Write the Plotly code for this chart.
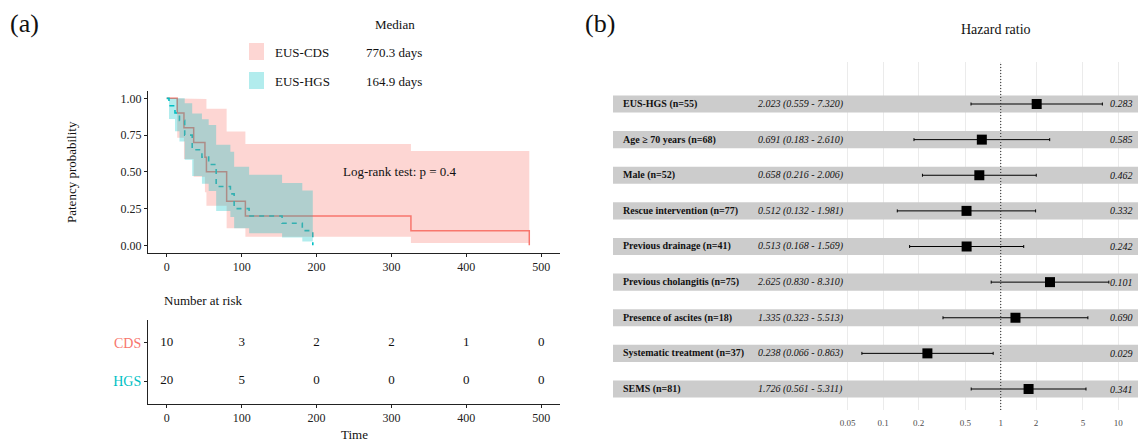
import plotly.graph_objects as go

W, H = 1138, 442
SERIF = "Liberation Serif, Times New Roman, serif"

# ---------------- data: Kaplan-Meier (a) ----------------
cds_time = [0, 14, 23, 36, 51, 53, 80, 105, 326, 484]
cds_surv = [1.0, 0.9, 0.8, 0.7, 0.6, 0.5, 0.3, 0.2, 0.1, 0.0]
cds_upper = [1.0, 1.0, 1.0, 1.0, 0.995, 0.929, 0.774, 0.690, 0.642]
cds_lower = [1.0, 0.732, 0.587, 0.467, 0.362, 0.269, 0.116, 0.058, 0.016]

hgs_time = [0, 3, 11, 17, 24, 34, 47, 56, 66, 85, 90, 110, 154, 181, 195]
hgs_surv = [1.0, 0.95, 0.90, 0.85, 0.75, 0.65, 0.60, 0.55, 0.40, 0.35, 0.25, 0.20, 0.15, 0.10, 0.0]
hgs_upper = [1.0, 1.0, 1.0, 1.0, 0.966, 0.897, 0.858, 0.818, 0.684, 0.636, 0.534, 0.480, 0.425, 0.373]
hgs_lower = [1.0, 0.859, 0.777, 0.707, 0.582, 0.471, 0.419, 0.370, 0.234, 0.193, 0.117, 0.083, 0.053, 0.027]

risk_times = [0, 100, 200, 300, 400, 500]
cds_risk = [10, 3, 2, 2, 1, 0]
hgs_risk = [20, 5, 0, 0, 0, 0]
risk_groups = ["CDS", "HGS"]

legend_names = ["EUS-CDS", "EUS-HGS"]
legend_medians = ["770.3 days", "164.9 days"]
logrank_text = "Log-rank test: p = 0.4"

km_xticks = [0, 100, 200, 300, 400, 500]
km_yticks = [0.0, 0.25, 0.50, 0.75, 1.00]

# ---------------- data: forest plot (b) ----------------
fp_labels = ["EUS-HGS (n=55)", "Age \u2265 70 years (n=68)", "Male (n=52)",
             "Rescue intervention (n=77)", "Previous drainage (n=41)",
             "Previous cholangitis (n=75)", "Presence of ascites (n=18)",
             "Systematic treatment (n=37)", "SEMS (n=81)"]
fp_hr = [2.023, 0.691, 0.658, 0.512, 0.513, 2.625, 1.335, 0.238, 1.726]
fp_lo = [0.559, 0.183, 0.216, 0.132, 0.168, 0.830, 0.323, 0.066, 0.561]
fp_hi = [7.320, 2.610, 2.006, 1.981, 1.569, 8.310, 5.513, 0.863, 5.311]
fp_p = ["0.283", "0.585", "0.462", "0.332", "0.242", "0.101", "0.690", "0.029", "0.341"]
fp_ticks = [0.05, 0.1, 0.2, 0.5, 1, 2, 5, 10]

CDS_COL = "#F8766D"
HGS_COL = "#00BFC4"

FP_LOG_RANGE = [-3.297, 1.1675]


def px(x):
    return x / W


def py(y):
    return 1 - y / H


def ribbon(t, up, lo):
    xs, ys = [], []
    for i in range(len(up)):
        xs += [t[i], t[i + 1]]
        ys += [up[i], up[i]]
    for i in reversed(range(len(lo))):
        xs += [t[i + 1], t[i]]
        ys += [lo[i], lo[i]]
    return xs, ys


fig = go.Figure()

# KM lines (drawn first, ribbons on top as in the reference)
fig.add_trace(go.Scatter(x=cds_time, y=cds_surv, mode="lines", line_shape="hv",
                         line=dict(color=CDS_COL, width=1.5), xaxis="x", yaxis="y"))
fig.add_trace(go.Scatter(x=hgs_time, y=hgs_surv, mode="lines", line_shape="hv",
                         line=dict(color=HGS_COL, width=1.6, dash="5px,5px"),
                         xaxis="x", yaxis="y"))
rx, ry = ribbon(cds_time, cds_upper, cds_lower)
fig.add_trace(go.Scatter(x=rx, y=ry, mode="lines", fill="toself", line=dict(width=0),
                         fillcolor="rgba(248,118,109,0.3)", xaxis="x", yaxis="y"))
rx, ry = ribbon(hgs_time, hgs_upper, hgs_lower)
fig.add_trace(go.Scatter(x=rx, y=ry, mode="lines", fill="toself", line=dict(width=0),
                         fillcolor="rgba(0,191,196,0.3)", xaxis="x", yaxis="y"))

# risk table
fig.add_trace(go.Scatter(x=risk_times, y=[2] * len(risk_times), mode="text",
                         text=[str(v) for v in cds_risk],
                         textfont=dict(family=SERIF, size=13, color="#111"),
                         xaxis="x2", yaxis="y2"))
fig.add_trace(go.Scatter(x=risk_times, y=[1] * len(risk_times), mode="text",
                         text=[str(v) for v in hgs_risk],
                         textfont=dict(family=SERIF, size=13, color="#111"),
                         xaxis="x2", yaxis="y2"))

# forest plot
rows = list(range(len(fp_labels), 0, -1))
fig.add_trace(go.Scatter(
    x=fp_hr, y=rows, mode="markers",
    marker=dict(symbol="square", size=10, color="black"),
    error_x=dict(type="data", symmetric=False,
                 array=[h - m for h, m in zip(fp_hi, fp_hr)],
                 arrayminus=[m - l for m, l in zip(fp_hr, fp_lo)],
                 color="black", thickness=1, width=1.5),
    xaxis="x3", yaxis="y3"))

axis_font = dict(family=SERIF, size=12, color="#222")
km_dom_x = [px(148), px(560)]

fig.update_layout(
    width=W, height=H, margin=dict(l=0, r=0, t=0, b=0),
    paper_bgcolor="white", plot_bgcolor="rgba(0,0,0,0)", showlegend=False,
    font=dict(family=SERIF, color="#111"),
    xaxis=dict(domain=km_dom_x, range=[-25, 525], anchor="y",
               tickvals=km_xticks, showgrid=False, zeroline=False,
               showline=True, linecolor="#222", linewidth=1,
               ticks="outside", ticklen=3, tickcolor="#222", tickfont=axis_font),
    yaxis=dict(domain=[py(252.7), py(91)], range=[-0.05, 1.05], anchor="x",
               tickvals=km_yticks, tickformat=".2f", showgrid=False, zeroline=False,
               showline=True, linecolor="#222", linewidth=1,
               ticks="outside", ticklen=3, tickcolor="#222", tickfont=axis_font),
    xaxis2=dict(domain=km_dom_x, range=[-25, 525], anchor="y2",
                tickvals=km_xticks, showgrid=False, zeroline=False,
                showline=True, linecolor="#222", linewidth=1,
                ticks="outside", ticklen=3, tickcolor="#222", tickfont=axis_font),
    yaxis2=dict(domain=[py(404), py(320)], range=[0.4, 2.6], anchor="x2",
                tickvals=[2, 1],
                ticktext=['<span style="color:%s">%s</span>' % (CDS_COL, risk_groups[0]),
                          '<span style="color:%s">%s</span>' % (HGS_COL, risk_groups[1])],
                showgrid=False, zeroline=False,
                showline=True, linecolor="#222", linewidth=1,
                ticks="outside", ticklen=3, tickcolor="#222",
                tickfont=dict(family=SERIF, size=14)),
    xaxis3=dict(domain=[px(613), 1.0], type="log", range=FP_LOG_RANGE, anchor="y3",
                tickvals=fp_ticks, ticktext=[str(t) for t in fp_ticks],
                showgrid=True, gridcolor="#EBEBEB", gridwidth=1, zeroline=False,
                showline=False, ticks="", ticklabelstandoff=6,
                tickfont=dict(family=SERIF, size=9, color="#4D4D4D")),
    yaxis3=dict(domain=[py(410), py(62)], range=[0.4105, 10.179], anchor="x3",
                showgrid=False, zeroline=False, showticklabels=False, showline=False),
)

shapes = []
# forest bands (x in data units on the log axis)
for r in rows:
    shapes.append(dict(type="rect", xref="x3", yref="y3",
                       x0=10 ** FP_LOG_RANGE[0], x1=10 ** FP_LOG_RANGE[1],
                       y0=r - 0.24, y1=r + 0.24, fillcolor="#CCCCCC",
                       line=dict(width=0), layer="between"))
# reference line at HR = 1
shapes.append(dict(type="line", xref="x3", yref="y3", x0=1, x1=1,
                   y0=0.4105, y1=10.179, line=dict(color="#333", width=1.1, dash="1px,2px"),
                   layer="above"))
# legend keys
shapes.append(dict(type="rect", xref="paper", yref="paper", x0=px(249), x1=px(264),
                   y0=py(60), y1=py(43), fillcolor="rgba(248,118,109,0.3)",
                   line=dict(width=0)))
shapes.append(dict(type="rect", xref="paper", yref="paper", x0=px(249), x1=px(264),
                   y0=py(89), y1=py(72), fillcolor="rgba(0,191,196,0.3)",
                   line=dict(width=0)))
fig.update_layout(shapes=shapes)

ann = []


def A(text, x, y, size=13, xanchor="center", yanchor="middle", **kw):
    d = dict(text=text, x=px(x), y=py(y), xref="paper", yref="paper",
             showarrow=False, xanchor=xanchor, yanchor=yanchor,
             font=dict(family=SERIF, size=size, color=kw.pop("color", "#111")))
    d.update(kw)
    ann.append(d)


A("(a)", 8, 23, size=26, xanchor="left")
A("(b)", 583, 23, size=26, xanchor="left")
A("Median", 395, 24)
A(legend_names[0], 273, 52, xanchor="left")
A(legend_medians[0], 364, 52, xanchor="left")
A(legend_names[1], 273, 81, xanchor="left")
A(legend_medians[1], 364, 81, xanchor="left")
A("Hazard ratio", 996, 30, size=14)
A("Patency probability", 72, 172, textangle=-90)
A("Number at risk", 162, 300, xanchor="left")
A("Time", 354, 434)

ann.append(dict(text=logrank_text, x=312, y=0.5, xref="x", yref="y", showarrow=False,
                font=dict(family=SERIF, size=13, color="#111")))

for r, lab, h, l, u, p in zip(rows, fp_labels, fp_hr, fp_lo, fp_hi, fp_p):
    ann.append(dict(text="<b>%s</b>" % lab, x=px(621), y=r, xref="paper", yref="y3",
                    xanchor="left", yanchor="middle", showarrow=False,
                    font=dict(family=SERIF, size=10, color="#111")))
    ann.append(dict(text="<i>%.3f (%.3f - %.3f)</i>" % (h, l, u), x=px(756), y=r,
                    xref="paper", yref="y3", xanchor="left", yanchor="middle",
                    showarrow=False, font=dict(family=SERIF, size=10, color="#111")))
    ann.append(dict(text="<i>%s</i>" % p, x=px(1135), y=r, xref="paper", yref="y3",
                    xanchor="right", yanchor="middle", showarrow=False,
                    font=dict(family=SERIF, size=10, color="#111")))

fig.update_layout(annotations=ann)
fig.write_html("out.html", config={"displayModeBar": False},
               post_script="document.body.style.margin='0px';"
                           "document.body.style.overflow='hidden';")
